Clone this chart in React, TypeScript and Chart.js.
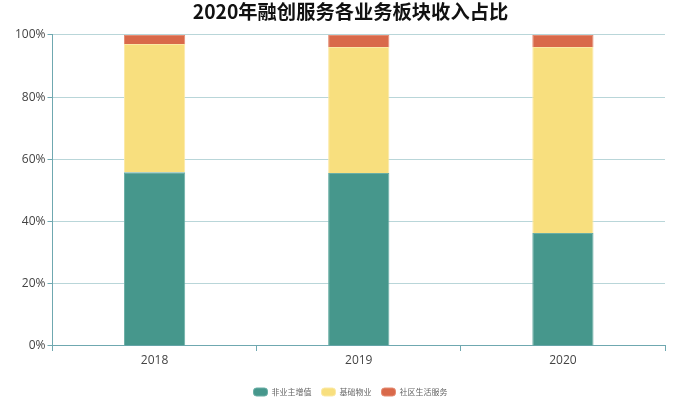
import React, { useEffect, useRef } from "react";
import { Chart, registerables } from "chart.js";

Chart.register(...registerables);

const categories = ["2018", "2019", "2020"];
const seriesNames = ["非业主增值", "基础物业", "社区生活服务"];
const valueAdded = [55.9, 55.6, 36.3];
const basicProperty = [41.2, 40.5, 59.8];
const communityLife = [2.9, 3.9, 3.9];
const yTicks = [0, 20, 40, 60, 80, 100];
const colors = ["#46978c", "#f8df7e", "#d9694a"];
const borderColors = ["#6aaea5", "#fbe9a6", "#e58c73"];

const centerBlocks = {
  id: "centerBlocks",
  beforeDraw(chart: any) {
    const boxes = [chart.titleBlock, chart.legend];
    boxes.forEach((b: any) => {
      if (b) {
        b.left = 35;
        b.right = 666;
      }
    });
  },
};

export default function App() {
  const ref = useRef<HTMLCanvasElement | null>(null);
  useEffect(() => {
    document.body.style.margin = "0";
    const ctx = ref.current!;
    const values = [valueAdded, basicProperty, communityLife];
    const chart = new Chart(ctx, {
      type: "bar",
      data: {
        labels: categories,
        datasets: seriesNames.map((name, i) => ({
          label: name,
          data: values[i],
          backgroundColor: colors[i],
          borderColor: borderColors[i],
          borderWidth: 1,
          barPercentage: 0.3,
          categoryPercentage: 1,
        })),
      },
      plugins: [centerBlocks],
      options: {
        responsive: false,
        animation: false,
        maintainAspectRatio: false,
        layout: { padding: { left: 13, right: 35, top: 0, bottom: -7 } },
        plugins: {
          title: {
            display: true,
            text: "2020年融创服务各业务板块收入占比",
            color: "#111",
            font: { family: "'Noto Sans CJK SC', sans-serif", size: 19.3, weight: "bold" },
            padding: { top: 0, bottom: 11.8 },
          },
          legend: {
            position: "bottom",
            labels: {
              boxWidth: 14,
              boxHeight: 8,
              useBorderRadius: true,
              borderRadius: 3,
              color: "#666",
              font: { family: "'Noto Sans CJK SC', sans-serif", size: 8 },
              padding: 10,
            },
          },
          tooltip: { enabled: false },
        },
        scales: {
          x: {
            stacked: true,
            afterFit: (axis: any) => {
              axis.height = 32;
            },
            grid: {
              display: true,
              offset: true,
              drawOnChartArea: false,
              tickColor: "#6fa8b0",
              tickLength: 5,
            },
            border: { color: "#6fa8b0", width: 1 },
            ticks: {
              color: "#444",
              font: { family: "'Open Sans', sans-serif", size: 12 },
              padding: 2,
            },
          },
          y: {
            stacked: true,
            min: 0,
            max: 100,
            afterBuildTicks: (axis: any) => {
              axis.ticks = yTicks.map((v) => ({ value: v }));
            },
            grid: {
              color: "#b9d6d9",
              tickColor: "#6fa8b0",
              tickLength: 5,
            },
            border: { color: "#6fa8b0", width: 1 },
            ticks: {
              color: "#444",
              font: { family: "'Open Sans', sans-serif", size: 12 },
              padding: 2,
              callback: (v: any) => v + "%",
            },
          },
        },
      },
    });
    return () => chart.destroy();
  }, []);
  return (
    <div style={{ position: "absolute", left: 0, top: 0, width: 700, height: 399 }}>
      <canvas ref={ref} width={700} height={399} />
    </div>
  );
}
